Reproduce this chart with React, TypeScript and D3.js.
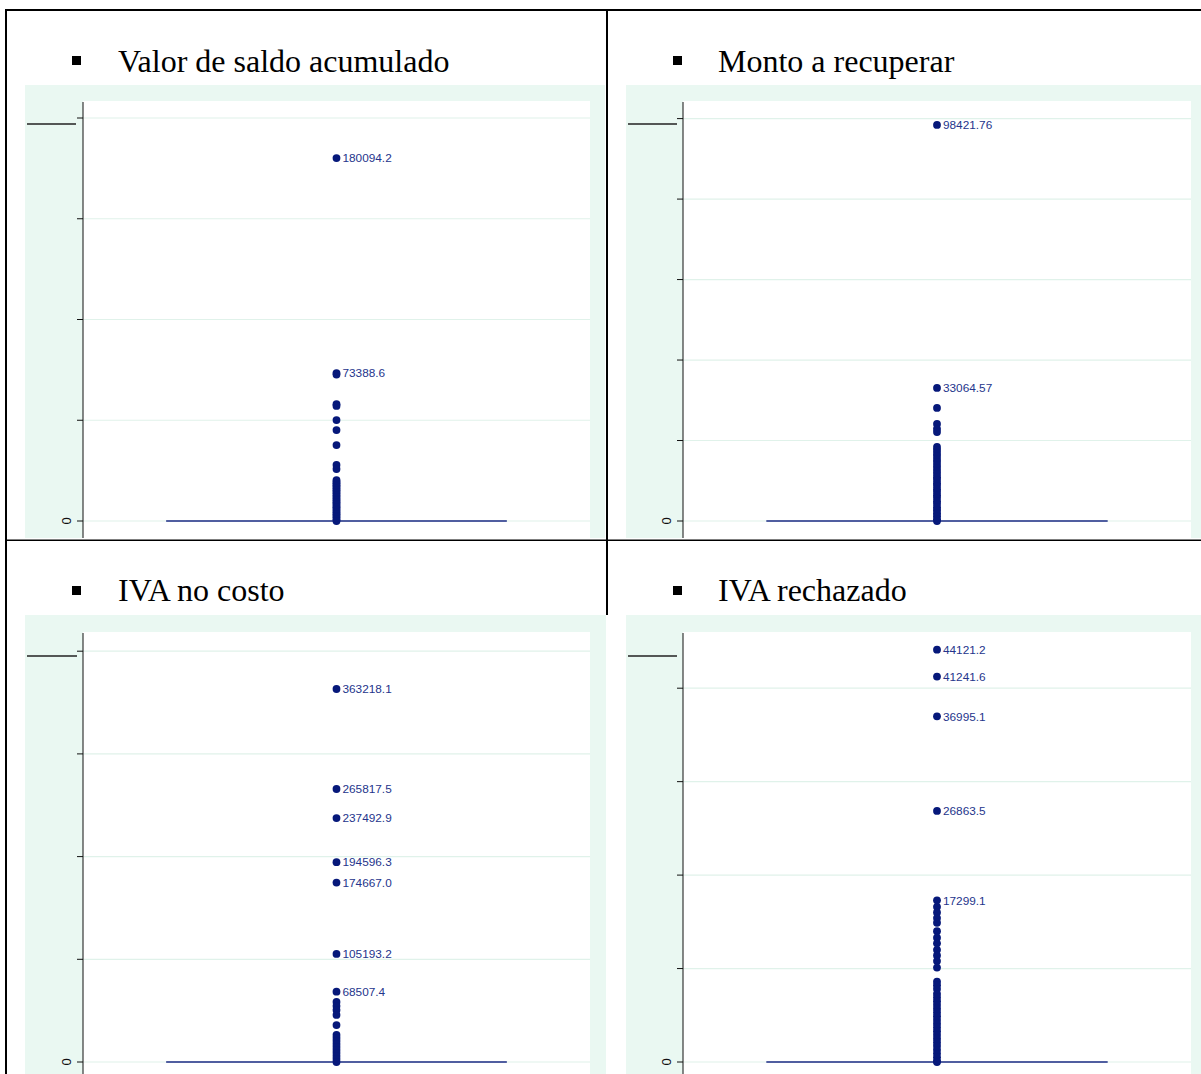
import React from "react";
import * as d3 from "d3";

// ---------- DATA ----------
const TITLES = ["Valor de saldo acumulado", "Monto a recuperar", "IVA no costo", "IVA rechazado"];

const TICKS_SALDO = [0, 50000, 100000, 150000, 200000];
const VALUES_SALDO = [180094.2, 73388.6, 72700, 58000, 57100, 50100, 45100, 37700, 27800, 25800,
  20300, 19500, 18700, 17800, 17000, 16100, 15300, 14400, 13600, 12700, 11900, 11000, 10200, 9300,
  8500, 7600, 6800, 5900, 5100, 4200, 3400, 2500, 1700, 800, 0];
const LABELED_SALDO = [180094.2, 73388.6];

const TICKS_MONTO = [0, 20000, 40000, 60000, 80000, 100000];
const VALUES_MONTO = [98421.76, 33064.57, 28100, 24100, 22900, 22100, 18400, 17700, 16900, 16200,
  15400, 14700, 13900, 13200, 12400, 11700, 10900, 10200, 9400, 8700, 7900, 7200, 6400, 5700, 4900,
  4200, 3400, 2700, 1900, 1200, 400, 0];
const LABELED_MONTO = [98421.76, 33064.57];

const TICKS_IVA_NC = [0, 100000, 200000, 300000, 400000];
const VALUES_IVA_NC = [363218.1, 265817.5, 237492.9, 194596.3, 174667.0, 105193.2, 68507.4, 58400,
  54500, 50600, 45800, 36000, 26300, 23400, 20500, 17500, 14600, 11700, 8800, 5800, 2900, 0];
const LABELED_IVA_NC = [363218.1, 265817.5, 237492.9, 194596.3, 174667.0, 105193.2, 68507.4];

const TICKS_IVA_RECH = [0, 10000, 20000, 30000, 40000];
const VALUES_IVA_RECH = [44121.2, 41241.6, 36995.1, 26863.5, 17299.1, 16600, 16000, 15400, 14900,
  14000, 13300, 12700, 12000, 11400, 10800, 10100, 8600, 8200, 7800, 7300, 6900, 6500, 6100, 5700,
  5300, 4900, 4500, 4100, 3700, 3300, 2900, 2500, 2100, 1700, 1300, 900, 500, 100, 0];
const LABELED_IVA_RECH = [44121.2, 41241.6, 36995.1, 26863.5, 17299.1];

const LABEL_FORMATS = [".1f", ".2f", ".1f", ".1f"];

// ---------- LAYOUT ----------
const W = 1201;
const H = 1074;
const BG = "#EAF8F2";
const GRID = "#E0F2EA";
const DOT = "#06187A";
const LINE = "#1B2B85";
const LABEL = "#25358C";

const layouts = [
  { bx: 25, by: 85, bw: 580, bh: 453, axisX: 83, plotRight: 590, plotTop: 101, axisTop: 102, axisBottom: 538, zeroY: 521, topTickY: 118, markY: 124, markX1: 27, markX2: 76, titleX: 118, bulletX: 72, bulletY: 56, baseline: 72 },
  { bx: 626, by: 85, bw: 575, bh: 453, axisX: 683, plotRight: 1191, plotTop: 101, axisTop: 102, axisBottom: 538, zeroY: 521, topTickY: 118.6, markY: 124, markX1: 628, markX2: 677, titleX: 718, bulletX: 673, bulletY: 56, baseline: 72 },
  { bx: 25, by: 615, bw: 581, bh: 459, axisX: 83, plotRight: 590, plotTop: 632, axisTop: 633, axisBottom: 1074, zeroY: 1062, topTickY: 651.2, markY: 656, markX1: 27, markX2: 77, titleX: 118, bulletX: 72, bulletY: 586, baseline: 601 },
  { bx: 626, by: 615, bw: 575, bh: 459, axisX: 683, plotRight: 1191, plotTop: 632, axisTop: 633, axisBottom: 1074, zeroY: 1062, topTickY: 688.2, markY: 656, markX1: 628, markX2: 677, titleX: 718, bulletX: 673, bulletY: 586, baseline: 601 },
];

const TICKS = [TICKS_SALDO, TICKS_MONTO, TICKS_IVA_NC, TICKS_IVA_RECH];
const VALUES = [VALUES_SALDO, VALUES_MONTO, VALUES_IVA_NC, VALUES_IVA_RECH];
const LABELED = [LABELED_SALDO, LABELED_MONTO, LABELED_IVA_NC, LABELED_IVA_RECH];

function Panel({ i }: { i: number }) {
  const L = layouts[i];
  const ticks = TICKS[i];
  const y = d3.scaleLinear().domain([0, ticks[ticks.length - 1]]).range([L.zeroY, L.topTickY]);
  const x = d3.scaleLinear().domain([0, 1]).range([L.axisX, L.plotRight]);
  const cx = x(0.5);
  const fmt = d3.format(LABEL_FORMATS[i]);
  const clipId = `clip${i}`;
  return (
    <g>
      <defs>
        <clipPath id={clipId}>
          <rect x={L.bx} y={L.by} width={L.bw} height={L.bh} />
        </clipPath>
      </defs>
      <rect x={L.bulletX} y={L.bulletY} width={9} height={9} fill="#000" />
      <text x={L.titleX} y={L.baseline} fontFamily="'Liberation Serif', 'Times New Roman', serif" fontSize={32} fill="#000">
        {TITLES[i]}
      </text>
      <g clipPath={`url(#${clipId})`}>
        <rect x={L.bx} y={L.by} width={L.bw} height={L.bh} fill={BG} />
        <rect x={L.axisX} y={L.plotTop} width={L.plotRight - L.axisX} height={L.bh + L.by - L.plotTop} fill="#fff" />
        {ticks.map((t) => (
          <line key={"g" + t} x1={L.axisX} x2={L.plotRight} y1={y(t)} y2={y(t)} stroke={GRID} strokeWidth={1.2} />
        ))}
        <line x1={L.axisX} x2={L.axisX} y1={L.axisTop} y2={L.axisBottom} stroke="#111" strokeWidth={1} />
        {ticks.map((t) => (
          <line key={"t" + t} x1={L.axisX - 6} x2={L.axisX} y1={y(t)} y2={y(t)} stroke="#111" strokeWidth={1} />
        ))}
        <text
          transform={`translate(${L.axisX - 12},${y(0)}) rotate(-90)`}
          textAnchor="middle"
          fontFamily="'Liberation Sans', Arial, sans-serif"
          fontSize={13}
          fill="#111"
        >
          0
        </text>
        <line x1={L.markX1} x2={L.markX2} y1={L.markY} y2={L.markY} stroke="#222" strokeWidth={1.3} />
        <line x1={x(0.164)} x2={x(0.836)} y1={y(0)} y2={y(0)} stroke={LINE} strokeWidth={1.6} />
        {VALUES[i].map((v, k) => (
          <circle key={"c" + k} cx={cx} cy={y(v)} r={3.9} fill={DOT} />
        ))}
        {LABELED[i].map((v, k) => (
          <text
            key={"l" + k}
            x={cx + 6}
            y={y(v) + 4.3}
            fontFamily="'Liberation Sans', Arial, sans-serif"
            fontSize={11.8}
            fill={LABEL}
          >
            {fmt(v)}
          </text>
        ))}
      </g>
    </g>
  );
}

export default function App() {
  return (
    <svg width={W} height={H} style={{ position: "absolute", left: 0, top: 0, background: "#fff" }}>
      <rect x={0} y={0} width={W} height={H} fill="#fff" />
      {[0, 1, 2, 3].map((i) => (
        <Panel key={i} i={i} />
      ))}
      <rect x={5} y={9} width={W - 5} height={2} fill="#000" />
      <rect x={5} y={9} width={2} height={H - 9} fill="#000" />
      <rect x={606} y={9} width={2} height={606} fill="#000" />
      <rect x={5} y={539.5} width={W - 5} height={1.5} fill="#000" />
    </svg>
  );
}
